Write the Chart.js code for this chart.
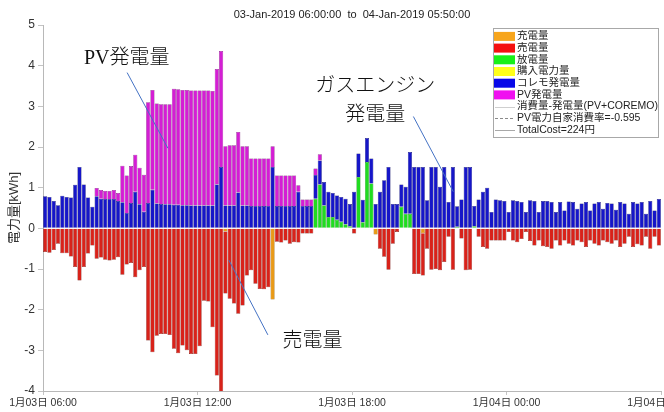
<!DOCTYPE html>
<html lang="ja">
<head>
<meta charset="UTF-8">
<title>電力量</title>
<script src="https://cdn.jsdelivr.net/npm/chart.js@4.4.1/dist/chart.umd.min.js"></script>
<style>
  body { margin: 0; background: #fff; }
  canvas { display: block; }
</style>
</head>
<body>
<canvas id="graficoEnergia" width="664" height="412"></canvas>
<script>
// 10分間隔 144 コマ (1月03日 06:00 〜 1月04日 05:50)
const xTickLabels = ['1月03日 06:00', '1月03日 12:00', '1月03日 18:00', '1月04日 00:00', '1月04日 06:00'];
const titleText = '03-Jan-2019 06:00:00  to  04-Jan-2019 05:50:00';

// 充電量 [kWh] (負側)
const chargeVals = [
  0,0,0,0,0,0,0,0,0,0,0,0,
  0,0,0,0,0,0,0,0,0,0,0,0,
  0,0,0,0,0,0,0,0,0,0,0,0,
  0,0,0,0,0,0,-0.08,0,0,0,0,0,
  0,0,0,0,0,-1.75,0,0,0,0,0,0,
  0,0,0,0,0,0,0,0,0,0,0,0,
  0,0,0,0,0,-0.15,0,0,0,0,0,0,
  0,0,0,0,-0.12,0,0,0,0,0,0,0,
  0,0,0,0,0,0,0,0,0,0,0,0,
  0,0,0,0,0,0,0,0,0,0,0,0,
  0,0,0,0,0,0,0,0,0,0,0,0,
  0,0,0,0,0,0,0,0,0,0,0,0
];
// 売電量 [kWh] (負側)
const saleVals = [
  -0.58,-0.60,-0.53,-0.38,-0.61,-0.61,-0.69,-0.95,-1.28,-0.95,-0.62,-0.42,
  -0.75,-0.72,-0.77,-0.79,-0.77,-0.71,-1.14,-0.89,-0.85,-1.20,-1.03,-0.95,
  -2.76,-3.05,-2.64,-2.60,-2.60,-2.62,-2.96,-3.07,-2.88,-3.00,-3.09,-3.09,
  -2.90,-1.78,-1.80,-2.43,-3.62,-4.10,-1.52,-1.73,-1.85,-2.10,-1.90,-1.16,
  -1.03,-1.36,-1.49,-1.50,-1.45,0,-0.33,-0.35,-0.30,-0.38,-0.34,-0.35,
  -0.13,-0.13,-0.13,0,0,0,0,0,0,0,0,0,
  -0.13,0,0,0,0,0,-0.50,-0.70,-1.02,-0.38,-0.09,0,
  0,0,-1.12,-1.12,-1.04,-0.50,-1.02,-1.00,-1.03,-0.83,-0.21,-1.02,
  0,-0.25,-1.03,-1.02,0,-0.21,-0.46,-0.50,-0.30,-0.30,-0.30,-0.30,
  -0.09,-0.30,-0.34,-0.26,-0.09,-0.31,-0.42,-0.30,-0.44,-0.46,-0.50,-0.30,
  -0.42,-0.30,-0.38,-0.42,-0.30,-0.34,-0.46,-0.30,-0.38,-0.42,-0.30,-0.34,
  -0.38,-0.30,-0.46,-0.38,-0.21,-0.46,-0.39,-0.42,-0.21,-0.50,-0.21,-0.42
];
// 放電量 [kWh]
const dischargeVals = [
  0,0,0,0,0,0,0,0,0,0,0,0,
  0,0,0,0,0,0,0,0,0,0,0,0,
  0,0,0,0,0,0,0,0,0,0,0,0,
  0,0,0,0,0,0,0,0,0,0,0,0,
  0,0,0,0,0,0,0,0,0,0,0,0,
  0,0,0,0.73,1.08,0.56,0.28,0.28,0.21,0.16,0.10,0.05,
  0,1.26,0.15,1.63,1.10,0,0,0,0,0,0,0.53,
  0.36,0.36,0,0,0,0,0,0,0,0,0,0,
  0.04,0,0,0,0.05,0,0,0,0,0,0,0,
  0,0,0,0,0,0,0,0,0,0,0,0,
  0,0,0,0,0,0,0,0,0,0,0,0,
  0,0,0,0,0,0,0,0,0,0,0,0
];
// 購入電力量 [kWh]
const purchaseVals = [
  0,0,0,0,0,0,0,0,0,0,0,0,
  0,0,0,0,0,0,0,0,0,0,0,0,
  0,0,0,0,0,0,0,0,0,0,0,0,
  0,0,0,0,0,0,0,0,0,0,0,0,
  0,0,0,0,0,0,0,0,0,0,0,0,
  0,0,0,0,0,0,0,0,0,0,0,0,
  0,0,0,0,0,0,0,0,0,0,0,0,
  0,0,0,0,0,0,0,0,0,0,0,0,
  0,0,0,0,0,0,0,0,0,0,0,0,
  0,0,0,0,0,0,0,0,0,0,0,0,
  0,0,0,0,0,0,0,0,0,0,0,0,
  0,0,0,0,0,0,0,0,0,0,0,0
];
// コレモ発電量 [kWh]
const coremoVals = [
  0.79,0.77,0.67,0.57,0.80,0.77,0.76,1.07,1.51,1.08,0.76,0.53,
  0.79,0.73,0.72,0.72,0.72,0.67,0.64,0.38,0.62,0.90,0.59,0.41,
  0.62,0.95,0.61,0.60,0.59,0.59,0.58,0.58,0.57,0.57,0.56,0.56,
  0.56,0.56,0.56,0.56,1.08,1.51,0.56,0.56,0.56,0.88,0.56,0.56,
  0.55,0.55,0.55,0.55,0.55,1.51,0.55,0.55,0.55,0.55,0.55,0.90,
  0.55,0.55,0.55,0.58,0.59,0.58,0.62,0.59,0.60,0.61,0.63,0.55,
  0.90,0.58,0.55,0.59,0.62,0.60,0.90,1.18,1.51,0.60,0.60,0.55,
  0.66,1.52,1.51,1.51,1.51,0.69,1.51,1.51,1.02,1.51,0.65,1.51,
  0.50,0.71,1.51,1.51,0.50,0.71,0.90,1.00,0.40,0.71,0.69,0.67,
  0.40,0.69,0.67,0.65,0.40,0.69,0.67,0.40,0.67,0.67,0.65,0.40,
  0.65,0.44,0.66,0.65,0.48,0.61,0.65,0.44,0.61,0.65,0.48,0.62,
  0.61,0.46,0.65,0.61,0.36,0.65,0.61,0.65,0.36,0.67,0.44,0.72
];
// PV発電量 [kWh]
const pvVals = [
  0,0,0,0,0,0,0,0,0,0,0,0,
  0.20,0.21,0.20,0.20,0.22,0.20,0.90,0.92,0.91,0.91,0.90,0.91,
  2.48,2.45,2.46,2.45,2.46,2.46,2.85,2.84,2.83,2.83,2.83,2.83,
  2.83,2.83,2.83,2.82,2.84,2.85,1.46,1.48,1.48,1.49,1.46,1.46,
  1.17,1.17,1.17,1.17,1.17,0.51,0.75,0.75,0.75,0.75,0.75,0.16,
  0.16,0.16,0.16,0.16,0.15,0,0,0,0,0,0,0,
  0,0,0,0,0,0,0,0,0,0,0,0,
  0,0,0,0,0,0,0,0,0,0,0,0,
  0,0,0,0,0,0,0,0,0,0,0,0,
  0,0,0,0,0,0,0,0,0,0,0,0,
  0,0,0,0,0,0,0,0,0,0,0,0,
  0,0,0,0,0,0,0,0,0,0,0,0
];

// 各コマの中心 (コマ番号 + 0.5)
const toXY = vals => vals.map((v, i) => ({ x: i + 0.5, y: v }));

// 吹き出し注記 (x: コマ, y: kWh)
const noteTexts = [
  { text: 'PV発電量', x: 19.5, y: 4.18 },
  { text: 'ガスエンジン', x: 77.4, y: 3.48 },
  { text: '発電量', x: 77.4, y: 2.76 },
  { text: '売電量', x: 62.8, y: -2.79 }
];
const noteLines = [
  { x1: 19.6, y1: 3.83, x2: 29.1, y2: 1.97 },
  { x1: 86.3, y1: 2.75, x2: 95.6, y2: 0.90 },
  { x1: 43.3, y1: -0.78, x2: 52.4, y2: -2.62 }
];

Chart.defaults.font.family = "'Liberation Sans', 'Noto Sans CJK JP', sans-serif";
Chart.defaults.font.size = 11;
Chart.defaults.color = '#333';

// タイトル (プロット領域の中央)
const titlePlugin = {
  id: 'plotTitle',
  afterDraw(chart) {
    const { ctx, chartArea } = chart;
    ctx.save();
    ctx.font = "11px 'Liberation Sans', sans-serif";
    ctx.fillStyle = '#222';
    ctx.textAlign = 'center';
    ctx.textBaseline = 'middle';
    ctx.fillText(titleText, (chartArea.left + chartArea.right) / 2, 15);
    ctx.restore();
  }
};

// 注記の文字と引出し線
const notesPlugin = {
  id: 'notes',
  afterDatasetsDraw(chart) {
    const { ctx, scales } = chart;
    ctx.save();
    ctx.strokeStyle = '#4472c4';
    ctx.lineWidth = 1;
    noteLines.forEach(l => {
      ctx.beginPath();
      ctx.moveTo(scales.x.getPixelForValue(l.x1), scales.y.getPixelForValue(l.y1));
      ctx.lineTo(scales.x.getPixelForValue(l.x2), scales.y.getPixelForValue(l.y2));
      ctx.stroke();
    });
    ctx.font = "300 20px 'Liberation Serif', 'Noto Sans CJK JP Light', 'Noto Sans CJK JP', serif";
    ctx.fillStyle = '#111';
    ctx.textAlign = 'center';
    ctx.textBaseline = 'middle';
    noteTexts.forEach(n => {
      ctx.fillText(n.text, scales.x.getPixelForValue(n.x), scales.y.getPixelForValue(n.y));
    });
    ctx.restore();
  }
};

// 右上の凡例ボックス
const legendBox = { x: 493, y: 28, w: 165, h: 109, firstRow: 8.4, rowH: 11.7 };
const legendPlugin = {
  id: 'boxLegend',
  afterDraw(chart) {
    const ctx = chart.ctx;
    const b = legendBox;
    ctx.save();
    ctx.fillStyle = '#fff';
    ctx.fillRect(b.x, b.y, b.w, b.h);
    ctx.strokeStyle = '#a8a8a8';
    ctx.lineWidth = 1;
    ctx.strokeRect(b.x + 0.5, b.y + 0.5, b.w, b.h);
    ctx.font = "10.5px 'Liberation Sans', 'Noto Sans CJK JP', sans-serif";
    ctx.textBaseline = 'middle';
    ctx.textAlign = 'left';
    chart.data.datasets.forEach((ds, k) => {
      const yc = b.y + b.firstRow + k * b.rowH;
      if (ds.type === 'line') {
        ctx.strokeStyle = ds.borderColor;
        ctx.setLineDash(ds.borderDash || []);
        ctx.beginPath();
        ctx.moveTo(b.x + 2, Math.round(yc) + 0.5);
        ctx.lineTo(b.x + 22, Math.round(yc) + 0.5);
        ctx.stroke();
        ctx.setLineDash([]);
      } else {
        ctx.fillStyle = ds.legendColor;
        ctx.fillRect(b.x + 1, yc - 4.5, 21, 9);
      }
      ctx.fillStyle = '#222';
      ctx.fillText(ds.label, b.x + 24, yc);
    });
    ctx.restore();
  }
};

new Chart(document.getElementById('graficoEnergia'), {
  type: 'bar',
  data: {
    datasets: [
      { label: '充電量', data: toXY(chargeVals), backgroundColor: '#e89a18', borderColor: '#8a5808', legendColor: '#f7a51c' },
      { label: '売電量', data: toXY(saleVals), backgroundColor: '#d8221a', borderColor: '#6e0e08', legendColor: '#f41010' },
      { label: '放電量', data: toXY(dischargeVals), backgroundColor: '#20dc20', borderColor: '#0e700e', legendColor: '#18f018' },
      { label: '購入電力量', data: toXY(purchaseVals), backgroundColor: '#f4f400', borderColor: '#808000', legendColor: '#ffff1a' },
      { label: 'コレモ発電量', data: toXY(coremoVals), backgroundColor: '#1616c8', borderColor: '#080860', legendColor: '#0808e8' },
      { label: 'PV発電量', data: toXY(pvVals), backgroundColor: '#d41ed4', borderColor: '#6c0c6c', legendColor: '#f010f0' },
      { type: 'line', label: '消費量-発電量(PV+COREMO)', data: [], borderColor: '#cfcfcf' },
      { type: 'line', label: 'PV電力自家消費率=-0.595', data: [], borderColor: '#8a8a8a', borderDash: [3, 2] },
      { type: 'line', label: 'TotalCost=224円', data: [], borderColor: '#a8a8a8' }
    ]
  },
  options: {
    responsive: false,
    animation: false,
    events: [],
    layout: { padding: { top: 25, right: 3, left: 0, bottom: 0 } },
    datasets: { bar: { categoryPercentage: 1, barPercentage: 0.96, borderWidth: 0.5 } },
    plugins: { legend: { display: false }, tooltip: { enabled: false } },
    scales: {
      x: {
        type: 'linear',
        stacked: true,
        min: 0,
        max: 144,
        offset: false,
        grid: { offset: false, drawOnChartArea: false, tickLength: 4, color: '#c4c4c4' },
        border: { color: '#b8b8b8' },
        ticks: {
          stepSize: 36,
          autoSkip: false,
          maxRotation: 0,
          padding: 2,
          font: { size: 10.5 },
          callback: v => xTickLabels[v / 36]
        },
        afterFit: s => { s.height = 21; s.paddingLeft = 0; s.paddingRight = 0; }
      },
      y: {
        stacked: true,
        min: -4,
        max: 5,
        grid: { drawOnChartArea: false, tickLength: 5, color: '#c4c4c4' },
        border: { color: '#b8b8b8' },
        ticks: { stepSize: 1, padding: 3, font: { size: 12 } },
        title: { display: true, text: '電力量[kWh]', font: { size: 13 }, padding: { top: 7, bottom: 0 }, color: '#333' },
        afterFit: s => { s.width = 43; s.paddingTop = 0; s.paddingBottom = 0; }
      }
    }
  },
  plugins: [titlePlugin, notesPlugin, legendPlugin]
});
</script>
</body>
</html>
